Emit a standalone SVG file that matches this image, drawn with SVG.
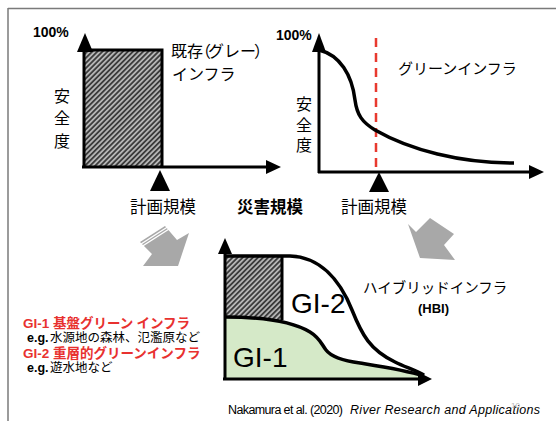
<svg xmlns="http://www.w3.org/2000/svg" width="556" height="421" viewBox="0 0 556 421">
<defs>
<style>
.t{font-family:"Liberation Sans","Noto Sans CJK JP",sans-serif;fill:#000}
.jp{font-family:"Noto Sans CJK JP",sans-serif;fill:#000}
.b{font-weight:bold}
.red{fill:#e8312f}
.ax{stroke:#000;stroke-width:3;fill:none}
.cv{stroke:#000;stroke-width:3.5;fill:none;stroke-linejoin:round}
.garrow{fill:#a8a8a8}
.stripe{stroke:#fff;stroke-width:1.3}
</style>
<pattern id="hatch" width="3.6" height="3.6" patternUnits="userSpaceOnUse" patternTransform="rotate(45)">
<rect width="3.6" height="3.6" fill="#b4b4b4"/>
<line x1="0.9" y1="0" x2="0.9" y2="3.6" stroke="#3c3c3c" stroke-width="1.8"/>
</pattern>
</defs>
<rect width="556" height="421" fill="#fff"/>
<g id="frame" stroke="#7a7a7a" stroke-width="1.5" fill="none">
<line x1="8" y1="8.5" x2="556" y2="8.5"/>
<line x1="8" y1="8" x2="8" y2="421"/>
</g>

<g id="chart-grey">
<rect x="84" y="50" width="78" height="117" fill="url(#hatch)"/>
<path class="ax" d="M84,50 H162 V167"/>
<line class="ax" x1="84" y1="168" x2="84" y2="48"/>
<polygon points="77,52 85,33 93,52"/>
<line class="ax" x1="82" y1="167" x2="268" y2="167"/>
<polygon points="266,160 281,167 266,174"/>
<polygon points="150,191 160,170 170,191"/>
<text class="t b" x="33" y="37" font-size="14">100%</text>
<text class="jp" x="171" y="57" font-size="16">既存<tspan x="195">（</tspan><tspan x="208">グレー</tspan><tspan x="254">）</tspan></text>
<text class="jp" x="172" y="80" font-size="16">インフラ</text>
<text class="jp" x="62" y="102" font-size="16" text-anchor="middle">安</text>
<text class="jp" x="62" y="124" font-size="16" text-anchor="middle">全</text>
<text class="jp" x="62" y="147" font-size="16" text-anchor="middle">度</text>
<text class="jp" x="130" y="213" font-size="16.5">計画規模</text>
</g>

<text id="xlabel" class="jp b" x="237" y="213" font-size="16.5">災害規模</text>

<g id="chart-green">
<line x1="376" y1="38" x2="376" y2="168" stroke="#e8392f" stroke-width="2.5" stroke-dasharray="9 6"/>
<line class="ax" x1="319" y1="173" x2="319" y2="48"/>
<polygon points="312,52 319,33 326,52"/>
<line class="ax" x1="318" y1="172" x2="531" y2="172"/>
<polygon points="529,165 544,172 529,179"/>
<path class="cv" d="M319,50 C340,55 352,75 355,100 C357,115 362,122 375,130 C410,150 460,163 514,163"/>
<polygon points="369,192 379,172 389,192"/>
<text class="t b" x="276" y="40" font-size="14">100%</text>
<text class="jp" x="398" y="74" font-size="15">グリーンインフラ</text>
<text class="jp" x="304" y="110" font-size="16" text-anchor="middle">安</text>
<text class="jp" x="304" y="131" font-size="16" text-anchor="middle">全</text>
<text class="jp" x="304" y="151" font-size="16" text-anchor="middle">度</text>
<text class="jp" x="341" y="213" font-size="16.5">計画規模</text>
</g>

<g id="connectors">
<polygon class="garrow" points="140,242 165,226 177,240 189,233 178,266 143,266 152,254"/>
<line class="stripe" x1="120" y1="257.5" x2="180" y2="219"/>
<line class="stripe" x1="120" y1="260.5" x2="180" y2="222"/>
<polygon class="garrow" points="408,224 416,232 430,218 454,234 444,245 455,260 420,258"/>
<line class="stripe" x1="415" y1="202" x2="470" y2="239"/>
<line class="stripe" x1="413" y1="205" x2="468" y2="242"/>
</g>

<g id="chart-hybrid">
<rect x="225" y="256" width="57" height="64" fill="url(#hatch)"/>
<path d="M225,317 C255,317 290,320 310,332 C320,338 322,345 326,350 C332,358 345,361 360,363 C385,367 405,370 424,376 L424,379 L225,379 Z" fill="#d5e9c8"/>
<path class="cv" d="M225,317 C255,317 290,320 310,332 C320,338 322,345 326,350 C332,358 345,361 360,363 C385,367 405,370 424,376"/>
<path class="cv" d="M225,256 L290,256 C320,257 340,280 352,310 C362,335 370,350 395,362 C405,367 415,370 424,375"/>
<line class="ax" x1="282" y1="256" x2="282" y2="320"/>
<line class="ax" x1="225" y1="380" x2="225" y2="250"/>
<polygon points="218,254 225,238 232,254"/>
<line class="ax" x1="223" y1="379" x2="421" y2="379"/>
<polygon points="418,372 432,379 418,386"/>
<text class="t" x="291" y="313" font-size="28">GI-2</text>
<text class="t" x="233" y="367" font-size="28">GI-1</text>
<text class="jp" x="363" y="293" font-size="14.5">ハイブリッドインフラ</text>
<text class="t b" x="418" y="313" font-size="13">(HBI)</text>
</g>

<g id="legend">
<text class="t b red" x="23" y="328" font-size="13.5">GI-1<tspan class="jp red" x="53">基盤グリーン インフラ</tspan></text>
<text class="t" x="27" y="342" font-size="12.5"><tspan class="b">e.g.</tspan><tspan class="jp" x="50">水源地の森林、氾濫原など</tspan></text>
<text class="t b red" x="23" y="358" font-size="13.5">GI-2<tspan class="jp red" x="53">重層的グリーンインフラ</tspan></text>
<text class="t" x="27" y="372" font-size="12.5"><tspan class="b">e.g.</tspan><tspan class="jp" x="50">遊水地など</tspan></text>
</g>

<g id="citation">
<text class="t" x="228" y="414" font-size="12.5"><tspan textLength="115">Nakamura et al. (2020)</tspan><tspan x="350" font-style="italic" textLength="190">River Research and Applications</tspan></text>
<text x="511" y="408" font-size="8" fill="#b8b8b8" font-family="Liberation Sans, sans-serif">10</text>
</g>
</svg>
